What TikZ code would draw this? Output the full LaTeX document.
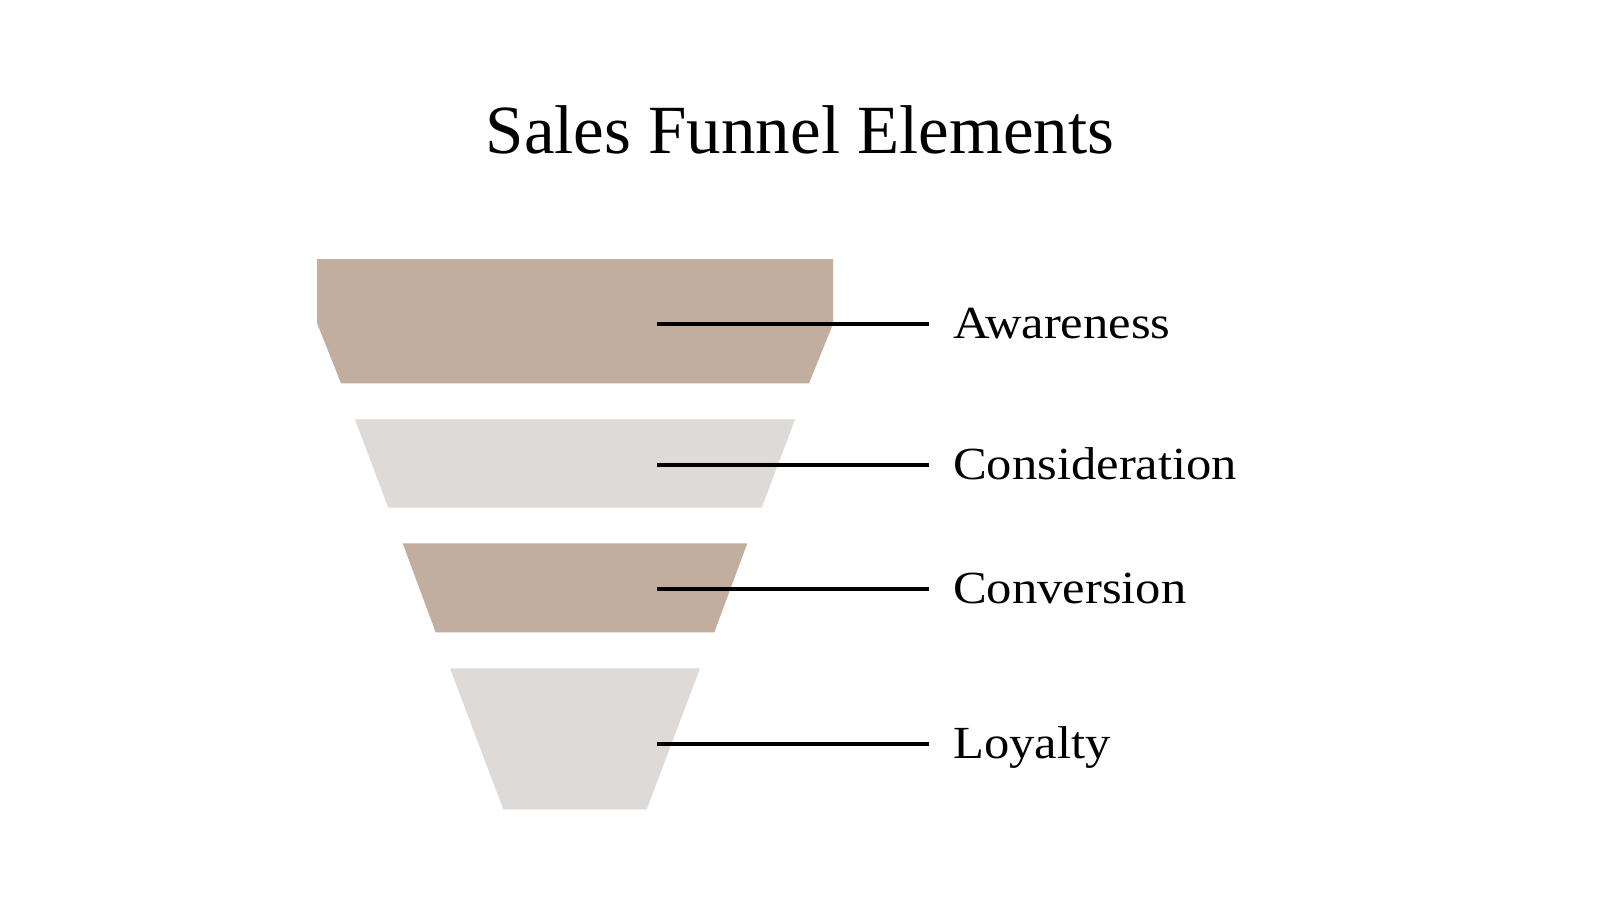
\documentclass[tikz,border=0pt]{standalone}
\usepackage{fontspec}
\setmainfont{Liberation Serif}
\newfontfamily\labelfont[FakeStretch=1.1]{Liberation Serif}
\definecolor{funbrown}{HTML}{C1AE9F}
\definecolor{fungray}{HTML}{DDDAD7}
\tikzset{
  band/.style={draw=none},
  leader/.style={draw=black, line width=3.8pt},
  stagelabel/.style={anchor=base west, inner sep=0pt, font=\labelfont\fontsize{46}{50}\selectfont},
  titlestyle/.style={anchor=base, inner sep=0pt, font=\fontsize{69}{80}\selectfont}
}
\begin{document}
\begin{tikzpicture}[x=1pt,y=-1pt]
\useasboundingbox[fill=white] (0,0) rectangle (1600,900);
\node[titlestyle] (title) at (800,153.8) {Sales Funnel Elements};
% funnel bands
\fill[funbrown] (317,259) -- (833,259) -- (833,324) -- (809,383.3) -- (341,383.3) -- (317,323) -- cycle;
\fill[fungray] (355,419.3) -- (795,419.3) -- (761.7,507.7) -- (388.3,507.7) -- cycle;
\fill[funbrown] (402.7,543.3) -- (747.3,543.3) -- (714.3,632.3) -- (435.7,632.3) -- cycle;
\fill[fungray] (450,668.3) -- (700,668.3) -- (646.7,809.3) -- (503.3,809.3) -- cycle;
% leader end points
\coordinate (s1) at (657,324.3); \coordinate (e1) at (928.5,324.3);
\coordinate (s2) at (657,465.3); \coordinate (e2) at (928.5,465.3);
\coordinate (s3) at (657,589.3); \coordinate (e3) at (928.5,589.3);
\coordinate (s4) at (657,743.8); \coordinate (e4) at (928.5,743.8);
\draw[leader] (s1) -- (e1);
\draw[leader] (s2) -- (e2);
\draw[leader] (s3) -- (e3);
\draw[leader] (s4) -- (e4);
\node[stagelabel] (l1) at (953,338.8) {Awareness};
\node[stagelabel] (l2) at (953,479.8) {Consideration};
\node[stagelabel] (l3) at (953,603.8) {Conversion};
\node[stagelabel] (l4) at (953,758.3) {Loyalty};
\end{tikzpicture}
\end{document}
